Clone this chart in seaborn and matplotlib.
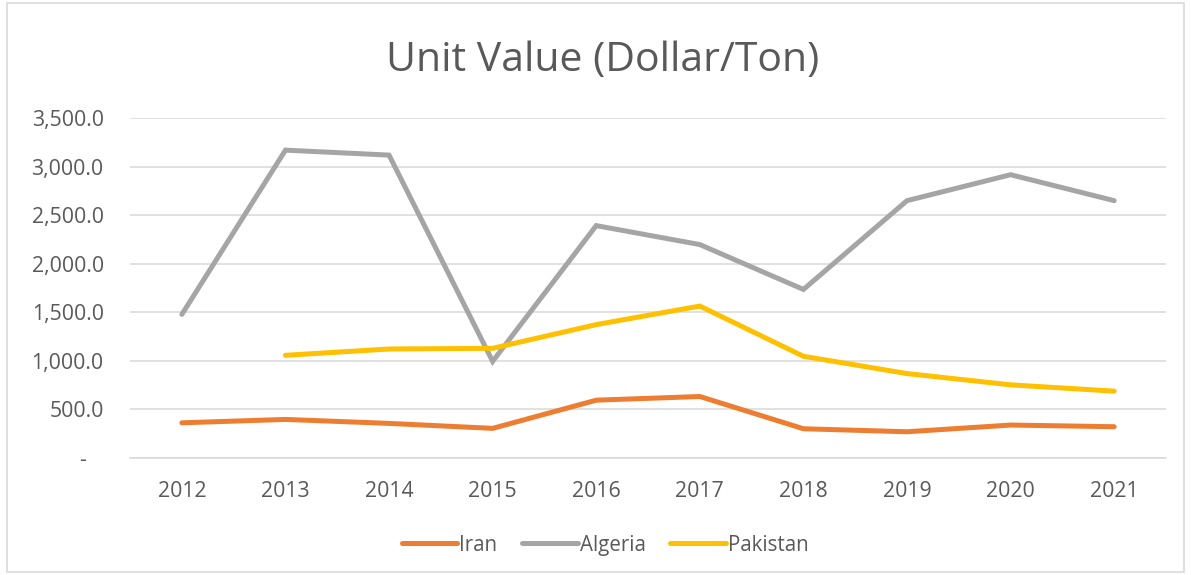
import pandas as pd
import matplotlib.pyplot as plt
import matplotlib.ticker as mticker
from matplotlib.patches import Rectangle
import seaborn as sns

years = [2012, 2013, 2014, 2015, 2016, 2017, 2018, 2019, 2020, 2021]
iran = [362, 397, 356, 305, 595, 633, 301, 270, 339, 322]
algeria = [1478, 3169, 3118, 995, 2392, 2197, 1735, 2649, 2916, 2649]
pakistan = [None, 1057, 1122, 1129, 1373, 1564, 1047, 869, 753, 688]

countries = ['Iran', 'Algeria', 'Pakistan']
colors = ['#ED7D31', '#A5A5A5', '#FFC000']

df = pd.DataFrame({'Year': years, 'Iran': iran, 'Algeria': algeria, 'Pakistan': pakistan})
df = df.melt(id_vars='Year', var_name='Country', value_name='Value').dropna()

sns.set_style('white')
plt.rcParams['font.family'] = ['Open Sans', 'DejaVu Sans']

fig = plt.figure(figsize=(11.91, 5.75), dpi=100)
ax = fig.add_axes([0.1092, 0.2035, 0.8698, 0.5913])

sns.lineplot(data=df, x='Year', y='Value', hue='Country', hue_order=countries,
             palette=colors, linewidth=3.6, ax=ax, legend=False,
             solid_capstyle='round', solid_joinstyle='miter')

ax.set_xlim(2011.5, 2021.5)
ax.set_ylim(0, 3500)
ax.set_xticks(years)
ax.set_yticks(range(0, 3501, 500))
ax.yaxis.set_major_formatter(mticker.FuncFormatter(lambda v, p: '-   ' if v == 0 else f'{v:,.1f}'))
ax.grid(axis='y', color='#D9D9D9', linewidth=1.1)
ax.set_axisbelow(True)
for s in ['top', 'right', 'left']:
    ax.spines[s].set_visible(False)
ax.spines['bottom'].set_color('#D9D9D9')
ax.spines['bottom'].set_linewidth(1.1)
ax.tick_params(axis='both', length=0, labelsize=15.3, colors='#595959')
ax.tick_params(axis='y', pad=19)
ax.tick_params(axis='x', pad=16.5)
ax.set_xlabel('')
ax.set_ylabel('')

fig.text(0.506, 0.895, 'Unit Value (Dollar/Ton)', ha='center', va='center',
         fontsize=29.5, color='#595959')

handles = [plt.Line2D([], [], color=c, linewidth=3.6, solid_capstyle='round') for c in colors]
fig.legend(handles, countries, loc='center', bbox_to_anchor=(0.508, 0.052), ncol=3,
           frameon=False, fontsize=14.8, labelcolor='#595959', handlelength=2.7,
           handletextpad=0.1, columnspacing=1.2)

fig.patches.append(Rectangle((0.006, 0.006), 0.988, 0.988, transform=fig.transFigure,
                             fill=False, edgecolor='#D9D9D9', linewidth=1.2))

plt.savefig('out.png', dpi=100)
